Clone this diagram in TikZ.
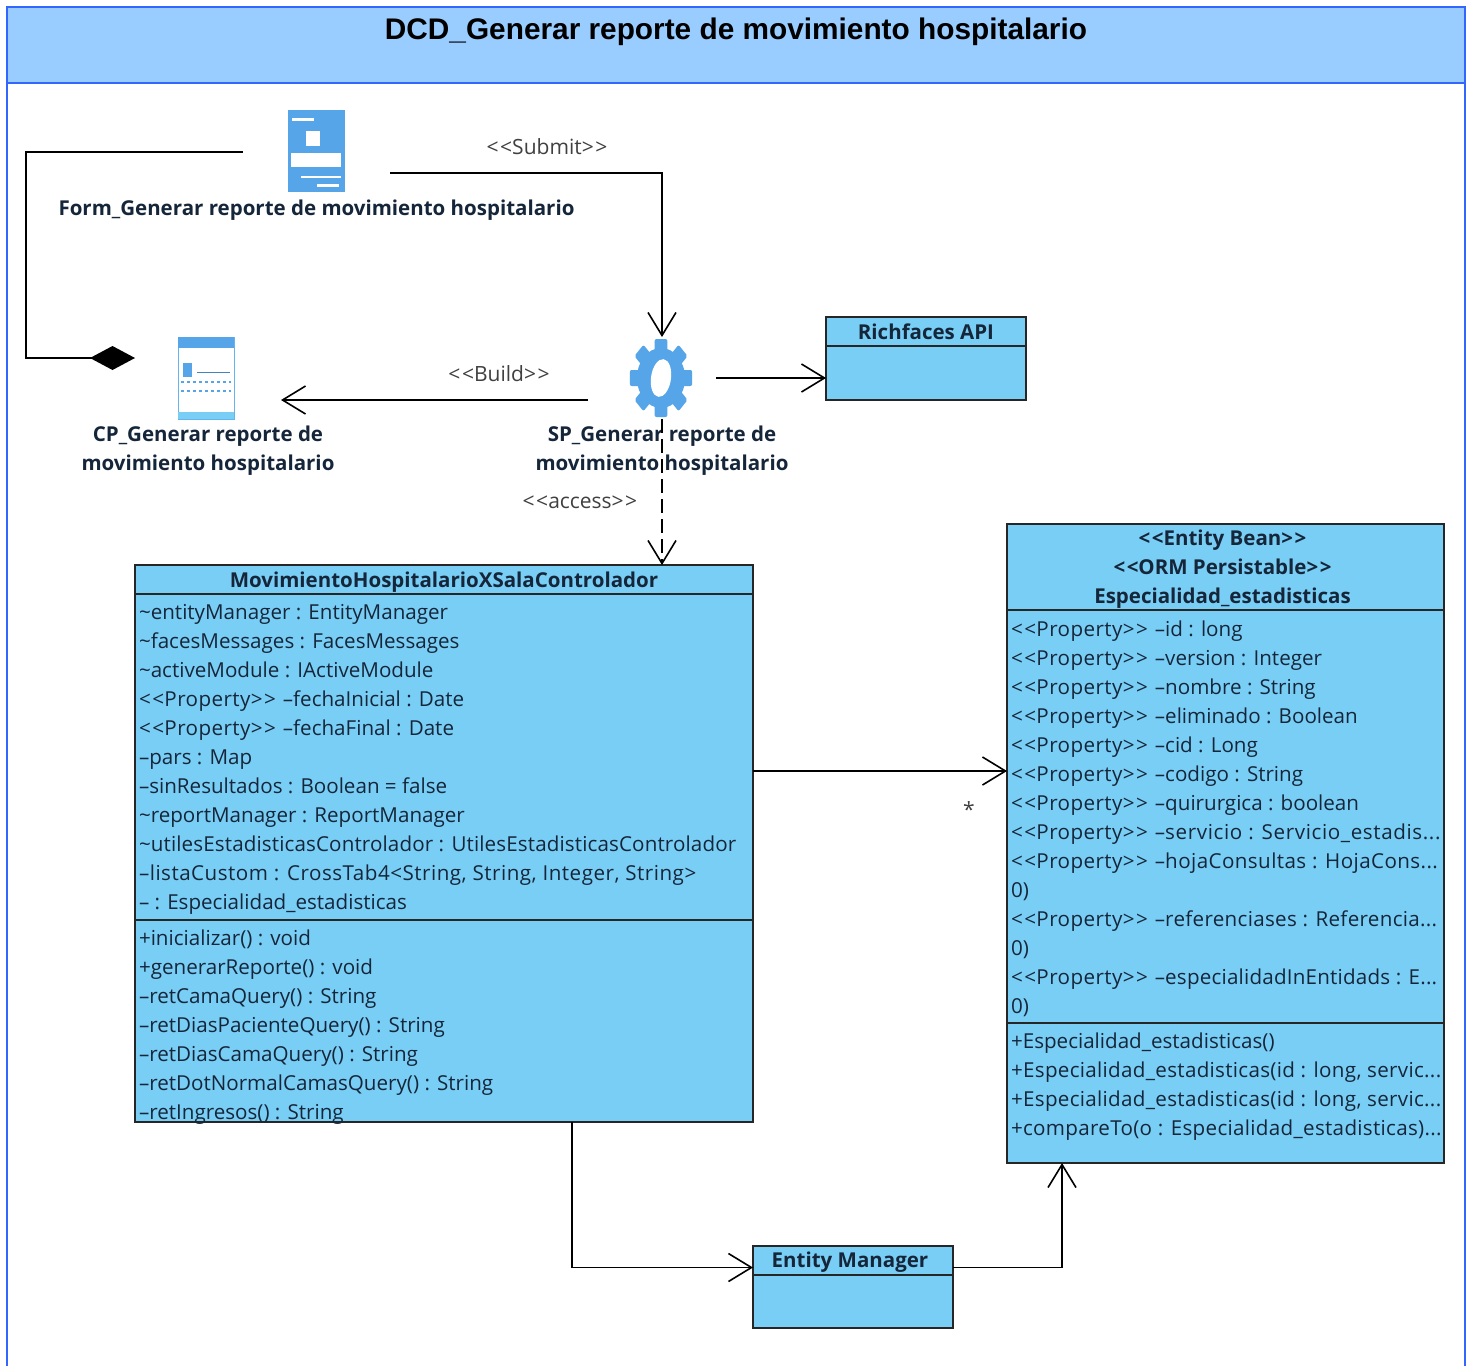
\documentclass[tikz,border=0pt]{standalone}
\usepackage{fontspec}
\setmainfont{Open Sans}
\newfontfamily\titlefont{Liberation Sans}
\usetikzlibrary{positioning}
\usetikzlibrary{arrows.meta}

\definecolor{bandblue}{HTML}{99CCFF}
\definecolor{frameblue}{HTML}{3366FF}
\definecolor{classblue}{HTML}{79CEF5}
\definecolor{iconblue}{HTML}{55A5E8}
\definecolor{inktext}{HTML}{16263A}

\newcommand{\stereo}[1]{<\kern1.5pt<#1>\kern1.5pt>}
\newcommand{\prop}{{\addfontfeature{LetterSpace=2}\stereo{Property}}\kern7pt--}
\newcommand{\wide}[2]{{\addfontfeature{LetterSpace=#1}#2}}

\tikzset{
  x=1pt, y=-1pt,
  every node/.style={outer sep=0pt, inner sep=0pt},
  umltext/.style={font=\fontsize{20.6}{29}\selectfont, text=inktext},
  elemtext/.style={font=\fontsize{20.5}{29}\selectfont\bfseries, text=inktext, align=center},
  stereotext/.style={font=\fontsize{21}{29}\selectfont, text=black!75},
  umlbox/.style={rectangle, draw=black!85, line width=1.8pt, fill=classblue, anchor=north west},
  elementbox/.style={rectangle, minimum width=#1, minimum height=82pt},
  openarrow/.style={-{Straight Barb[length=23pt,width=28pt,line width=1.6pt]}, line width=1.9pt},
  composite/.style={{Diamond[length=45pt,width=24pt]}-, line width=1.9pt}
}

\begin{document}
\begin{tikzpicture}
  \useasboundingbox (0,0) rectangle (1469,1366);
  % frame and title
  \fill[white] (0,0) rectangle (1469,1366);
  \draw[frameblue, line width=1.8pt] (7,1366) -- (7,7) -- (1465,7) -- (1465,1366);
  \node[rectangle, draw=frameblue, line width=1.8pt, fill=bandblue, anchor=north west,
    minimum width=1458pt, minimum height=76pt] (titleband) at (7,7) {};
  \node[font=\titlefont\fontsize{29.8}{34}\selectfont\bfseries] (title) at (736,32)
    {DCD\_Generar reporte de movimiento hospitalario};

  % form
  \node[elementbox=147pt] (form) at (316.5,152) {};
  \node[rectangle, fill=iconblue, minimum width=57pt, minimum height=82pt] (formicon) at (316,151) {};
  \fill[white] (306,131) rectangle (320,146);
  \fill[white] (291,153) rectangle (341,167);
  \fill[white] (301,176) rectangle (341,178);
  \fill[white] (317,184) rectangle (339,187);
  \fill[white] (292,118) rectangle (314,121);
  \node[elemtext, below=7pt of form] (formlabel) {Form\_Generar reporte de movimiento hospitalario};

  % client page
  \node[elementbox=146pt] (cp) at (208,378) {};
  \node[rectangle, draw=iconblue!60!classblue, line width=1pt, fill=white, minimum width=56pt,
    minimum height=82pt] (cpicon) at (206,378) {};
  \fill[iconblue] (178,337) rectangle (234,348);
  \fill[classblue] (178,412) rectangle (234,419);
  \fill[iconblue] (183,363) rectangle (192,377);
  \draw[iconblue!80!black, line width=1pt] (197,372) -- (230,372);
  \draw[iconblue, line width=1.5pt, dashed] (181,382) -- (231,382);
  \draw[iconblue, line width=1.5pt, dashed] (181,391) -- (231,391);
  \node[elemtext, below=7pt of cp] (cplabel) {CP\_Generar reporte de\\movimiento hospitalario};

  % server page
  \node[elementbox=128pt] (sp) at (652,378) {};
  \begin{scope}[shift={(661,378)}, xscale=0.8]
    \foreach \ang in {0,45,...,315} {
      \fill[iconblue, rotate=\ang, rounded corners=2pt] (-8,-39) rectangle (8,-24);
    }
    \fill[iconblue] (0,0) circle (30pt);
  \end{scope}
  \fill[white, rotate around={-8:(661,378)}] (661,378) ellipse (10pt and 19pt);
  \node[elemtext, below=7pt of sp] (splabel) {\hspace*{20pt}SP\_Generar reporte de\\\hspace*{20pt}movimiento hospitalario};

  % richfaces
  \node[umlbox, minimum width=200pt, minimum height=29pt] (rfhead) at (826,317) {};
  \node[elemtext] (rftitle) at (rfhead) {Richfaces API};
  \node[umlbox, minimum width=200pt, minimum height=54pt, below=0pt of rfhead] (rfbody) {};

  % controller class
  \node[umlbox, minimum width=618pt, minimum height=29pt] (movhead) at (135,565) {};
  \node[elemtext, yshift=-2.5pt] (movtitle) at (movhead) {MovimientoHospitalarioXSalaControlador};
  \node[umlbox, minimum width=618pt, minimum height=326pt, below=0pt of movhead] (movattr) {};
  \node[umlbox, minimum width=618pt, minimum height=202pt, below=0pt of movattr] (movops) {};
  \node[umltext, align=left, anchor=north west] (movattrtext) at (139,604) {%
    \textasciitilde entityManager : EntityManager\\
    \textasciitilde facesMessages : FacesMessages\\
    \textasciitilde activeModule : IActiveModule\\
    \prop fechaInicial : Date\\
    \prop fechaFinal : Date\\
    --pars : Map\\
    --sinResultados : Boolean = false\\
    \textasciitilde reportManager : ReportManager\\
    \wide{0.6}{\textasciitilde utilesEstadisticasControlador : UtilesEstadisticasControlador}\\
    \wide{2.4}{--listaCustom : CrossTab4<String, String, Integer, String>}\\
    -- : Especialidad\_estadisticas};
  \node[umltext, align=left, anchor=north west] (movopstext) at (139,930) {%
    +inicializar() : void\\
    +generarReporte() : void\\
    --retCamaQuery() : String\\
    --retDiasPacienteQuery() : String\\
    --retDiasCamaQuery() : String\\
    --retDotNormalCamasQuery() : String\\
    --retIngresos() : String};

  % entity class
  \node[umlbox, minimum width=437pt, minimum height=86pt] (especthead) at (1007,524) {};
  \node[elemtext, xshift=-3pt, yshift=-2pt] (especttitle) at (especthead) {\stereo{Entity Bean}\\\stereo{ORM Persistable}\\Especialidad\_estadisticas};
  \node[umlbox, minimum width=437pt, minimum height=413pt, below=0pt of especthead] (espectattr) {};
  \node[umlbox, minimum width=437pt, minimum height=140pt, below=0pt of espectattr] (espectops) {};
  \node[umltext, align=left, anchor=north west] (espectattrtext) at (1011,621) {%
    \prop id : long\\
    \prop version : Integer\\
    \prop nombre : String\\
    \prop eliminado : Boolean\\
    \prop cid : Long\\
    \prop codigo : String\\
    \prop quirurgica : boolean\\
    \prop \wide{3}{servicio : Servicio\_estadis...}\\
    \prop \wide{2}{hojaConsultas : HojaCons...}\\
    0)\\
    \prop \wide{1.5}{referenciases : Referencia...}\\
    0)\\
    \prop \wide{1}{especialidadInEntidads : E...}\\
    0)};
  \node[umltext, align=left, anchor=north west] (espectopstext) at (1011,1033) {%
    +Especialidad\_estadisticas()\\
    \wide{1.5}{+Especialidad\_estadisticas(id : long, servic...}\\
    \wide{1.5}{+Especialidad\_estadisticas(id : long, servic...}\\
    \wide{1.5}{+compareTo(o : Especialidad\_estadisticas)...}};

  % entity manager
  \node[umlbox, minimum width=200pt, minimum height=29pt] (emhead) at (753,1246) {};
  \node[elemtext, xshift=-3pt, yshift=-2pt] (emtitle) at (emhead) {Entity Manager};
  \node[umlbox, minimum width=200pt, minimum height=53pt, below=0pt of emhead] (embody) {};

  % connectors
  \draw[composite] ([yshift=20pt]cp.west) -- (26,358) |- (form.west);
  \draw[openarrow] ([yshift=-21pt]form.east) -| ([xshift=10pt]sp.north);
  \draw[openarrow] ([yshift=-22pt]sp.west) -- ([yshift=-22pt]cp.east);
  \draw[openarrow] (sp.east) -- (sp.east -| rfbody.west);
  \draw[openarrow, dash pattern=on 14pt off 6pt] ([xshift=10pt]sp.south) -- ([xshift=10pt]sp.south |- movhead.north);
  \draw[openarrow] ([yshift=-14pt]movattr.east) -- ([yshift=-14pt]movattr.east -| espectattr.west);
  \draw[openarrow] ([xshift=128pt]movops.south) |- ([yshift=-7pt]emhead.west);
  \draw[openarrow] ([yshift=-7pt]emhead.east) -| ([xshift=-163.5pt]espectops.south);

  % connector labels
  \node[stereotext] (submitlabel) at (547,147) {\stereo{Submit}};
  \node[stereotext] (buildlabel) at (499,374) {\stereo{Build}};
  \node[stereotext] (accesslabel) at (580,502) {\stereo{access}};
  \node[stereotext] (multlabel) at (969,810) {*};
\end{tikzpicture}
\end{document}
